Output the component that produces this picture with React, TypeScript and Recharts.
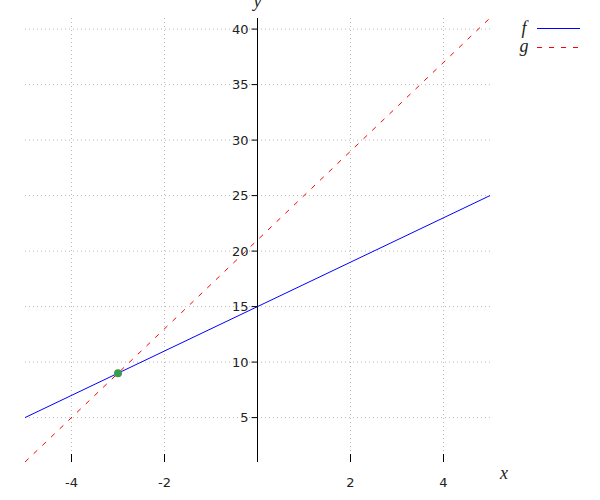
import React from "react"
import { ComposedChart, Line, XAxis, YAxis, CartesianGrid, ReferenceLine, ReferenceDot } from "recharts"

// sample points of the two lines
const xValues = [-5, 5]
const fValues = [5, 25]
const gValues = [1, 41]

// intersection point
const meetX = -3
const meetY = 9

const xTicks = [-4, -2, 2, 4]
const yTicks = [5, 10, 15, 20, 25, 30, 35, 40]

const data = xValues.map((x, i) => ({ x, f: fValues[i], g: gValues[i] }))

const tickFont = { fontFamily: "'DejaVu Sans', sans-serif", fontSize: 13, fill: "#222" }
const labelStyle = { fontFamily: "'Liberation Serif', serif", fontStyle: "italic", fontSize: 18 }

const XTick = (props: any) => {
  const { x, y, payload } = props
  return (
    <g>
      <line x1={x} x2={x} y1={y - 8} y2={y} stroke="#000" />
      <text x={x} y={y + 20} dy="0.35em" textAnchor="middle" {...tickFont}>
        {payload.value}
      </text>
    </g>
  )
}

const yTickShape = (v: number) => (props: any) => {
  const { cx, cy } = props
  return (
    <g>
      <line x1={cx - 6} x2={cx} y1={cy} y2={cy} stroke="#000" />
      <text x={cx - 9} y={cy} dy="0.35em" textAnchor="end" {...tickFont}>
        {v}
      </text>
    </g>
  )
}

const yLabel = (props: any) => (
  <text x={props.cx} y={props.cy - 11} textAnchor="middle" fill="#222" style={labelStyle}>y</text>
)

const xLabel = (props: any) => (
  <text x={props.cx + 14} y={props.cy + 17} textAnchor="middle" fill="#222" style={labelStyle}>x</text>
)

function LegendBox() {
  return (
    <svg width={100} height={70} style={{ position: "absolute", left: 500, top: 0 }}>
      <text x={24} y={34} textAnchor="middle" fill="#222" style={labelStyle}>f</text>
      <line x1={37} x2={80} y1={28.5} y2={28.5} stroke="#0000ff" />
      <text x={24} y={52} textAnchor="middle" fill="#222" style={labelStyle}>g</text>
      <line x1={37} x2={80} y1={47.5} y2={47.5} stroke="#ff0000" strokeDasharray="5 7" />
    </svg>
  )
}

export default function App() {
  return (
    <div style={{ position: "absolute", left: 0, top: 0, width: 600, height: 500, background: "#fff" }}>
      <ComposedChart width={600} height={500} data={data} margin={{ top: 18, right: 110, left: 25, bottom: 8 }}>
        <CartesianGrid
          stroke="#bbb"
          strokeDasharray="1 3"
          horizontalValues={yTicks}
          verticalValues={xTicks}
        />
        <XAxis
          dataKey="x"
          type="number"
          domain={[-5, 5]}
          ticks={xTicks}
          axisLine={false}
          tickLine={false}
          tickSize={0}
          tickMargin={0}
          height={30}
          tick={XTick}
          allowDataOverflow
        />
        <YAxis type="number" domain={[1, 41]} ticks={yTicks} hide width={0} allowDataOverflow />
        <ReferenceLine x={0} stroke="#000" strokeWidth={1} />
        {yTicks.map((v) => (
          <ReferenceDot key={v} x={0} y={v} ifOverflow="visible" shape={yTickShape(v)} />
        ))}
        <ReferenceDot x={0} y={41} ifOverflow="visible" shape={yLabel} />
        <ReferenceDot x={5} y={1} ifOverflow="visible" shape={xLabel} />
        <Line
          type="linear"
          dataKey="f"
          stroke="#0000ff"
          strokeWidth={1}
          dot={false}
          activeDot={false}
          isAnimationActive={false}
        />
        <Line
          type="linear"
          dataKey="g"
          stroke="#ff0000"
          strokeWidth={1}
          strokeDasharray="5 7"
          dot={false}
          activeDot={false}
          isAnimationActive={false}
        />
        <ReferenceDot x={meetX} y={meetY} r={4} fill="#3a9a4f" stroke="none" ifOverflow="visible" />
      </ComposedChart>
      <LegendBox />
    </div>
  )
}
